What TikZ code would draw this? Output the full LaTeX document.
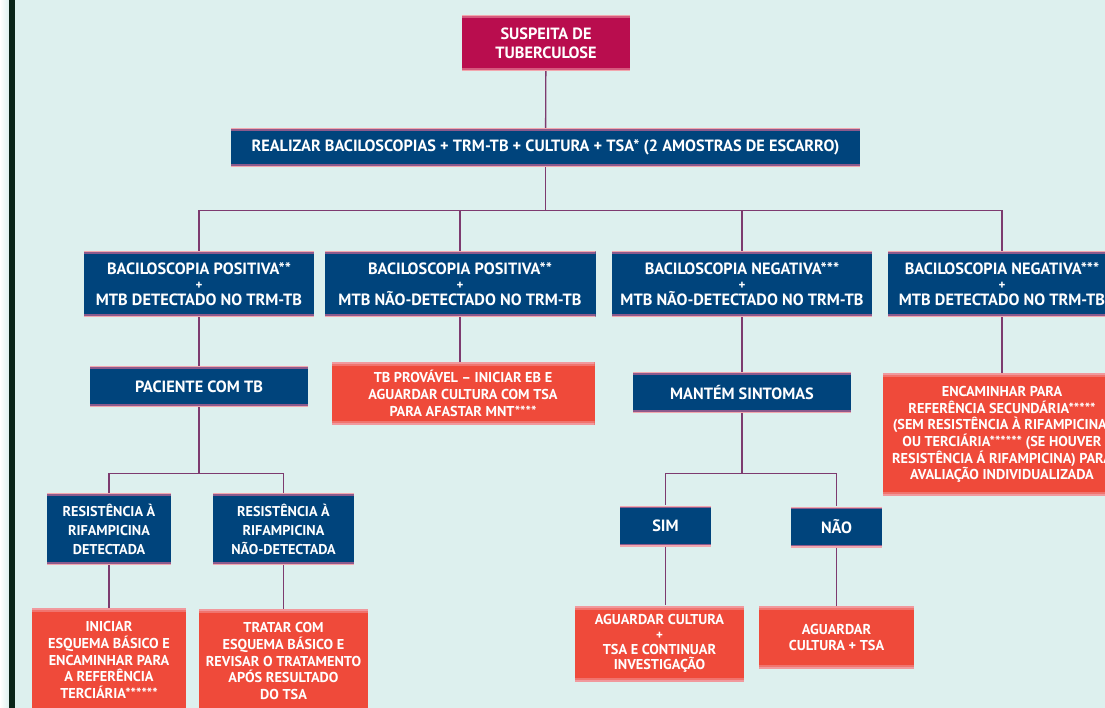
\documentclass[tikz,border=0pt]{standalone}
\usepackage{fontspec}
\setmainfont{PT Sans}
\usetikzlibrary{positioning, calc}
\definecolor{TBBack}{HTML}{DDF0EE}
\definecolor{TBNavy}{HTML}{00447C}
\definecolor{TBRed}{HTML}{EF4A3A}
\definecolor{TBCrimson}{HTML}{B90D4E}
\definecolor{TBPink}{HTML}{F2A7AE}
\definecolor{TBMauve}{HTML}{8C5A8C}
\definecolor{TBLine}{HTML}{7D3B6F}
\definecolor{TBDark}{HTML}{0A2418}
% two coloured stripes at the top and bottom edge of a box
\newcommand{\edgestripes}[3]{%
    \fill[#1] (path picture bounding box.north west) rectangle ([yshift=-#3]path picture bounding box.north east);
    \fill[#2] ([yshift=-#3]path picture bounding box.north west) rectangle ([yshift=-2*#3]path picture bounding box.north east);
    \fill[#1] (path picture bounding box.south west) rectangle ([yshift=#3]path picture bounding box.south east);
    \fill[#2] ([yshift=#3]path picture bounding box.south west) rectangle ([yshift=2*#3]path picture bounding box.south east);}
\tikzset{
    % Box styles - flat fills with striped top and bottom edges
    tbbox/.style={
        rectangle,
        inner sep=0pt,
        align=center,
        text=white,
        font=\bfseries\fontsize{16.3}{19}\selectfont
    },
    suspect/.style={
        tbbox,
        fill=TBCrimson,
        path picture={\edgestripes{TBPink}{TBPink!50!TBCrimson}{1.3pt}}
    },
    finding/.style={
        tbbox,
        fill=TBNavy,
        path picture={\edgestripes{TBPink}{TBMauve}{1.3pt}}
    },
    action/.style={
        tbbox,
        fill=TBRed,
        font=\bfseries\fontsize{14.3}{16.7}\selectfont,
        path picture={\edgestripes{TBPink!85!TBRed}{TBPink!45!TBRed}{2pt}}
    },
    % Connector style - straight elbow lines
    link/.style={
        draw=TBLine,
        line width=1.3pt
    }
}
\newcommand{\plusline}{{\fontsize{13}{10}\selectfont +}}

\begin{document}
\begin{tikzpicture}[x=1pt, y=-1pt]
    \useasboundingbox (0,0) rectangle (1105,708);
    \clip (0,0) rectangle (1105,708);
    \fill[TBBack] (0,0) rectangle (1105,708);
    \shade[left color=white, right color=TBBack] (0,0) rectangle (9,708);
    \fill[TBDark] (9,0) rectangle (15,708);

    \node[suspect, minimum width=168pt, minimum height=56pt] (suspeita) at (546,43) {SUSPEITA DE\\TUBERCULOSE};
    \node[finding, minimum width=629pt, minimum height=39pt] (exames) at (545.5,147.5) {REALIZAR BACILOSCOPIAS + TRM-TB + CULTURA + TSA* (2 AMOSTRAS DE ESCARRO)};

    \node[finding, minimum width=230pt, minimum height=66pt, font=\bfseries\fontsize{16.3}{15.5}\selectfont] (posdet) at (199,284) {BACILOSCOPIA POSITIVA**\\\plusline\\MTB DETECTADO NO TRM-TB};
    \node[finding, minimum width=271pt, minimum height=66pt, font=\bfseries\fontsize{16.3}{15.5}\selectfont] (posnao) at (460,284) {BACILOSCOPIA POSITIVA**\\\plusline\\MTB NÃO-DETECTADO NO TRM-TB};
    \node[finding, minimum width=260pt, minimum height=66pt, font=\bfseries\fontsize{16.3}{15.5}\selectfont] (negnao) at (742,284) {BACILOSCOPIA NEGATIVA***\\\plusline\\MTB NÃO-DETECTADO NO TRM-TB};
    \node[finding, minimum width=228pt, minimum height=66pt, font=\bfseries\fontsize{16.3}{15.5}\selectfont] (negdet) at (1002,284) {BACILOSCOPIA NEGATIVA***\\\plusline\\MTB DETECTADO NO TRM-TB};

    \node[finding, minimum width=218pt, minimum height=41pt] (paciente) at (199,386.5) {PACIENTE COM TB};
    \node[action, minimum width=263pt, minimum height=63pt] (provavel) at (463,393.5) {TB PROVÁVEL -- INICIAR EB E\\AGUARDAR CULTURA COM TSA\\PARA AFASTAR MNT****};
    \node[finding, minimum width=218pt, minimum height=41pt] (sintomas) at (742,392.5) {MANTÉM SINTOMAS};
    \node[action, minimum width=238pt, minimum height=123pt] (encaminhar) at (1002,434.5) {ENCAMINHAR PARA\\REFERÊNCIA SECUNDÁRIA*****\\(SEM RESISTÊNCIA À RIFAMPICINA)\\OU TERCIÁRIA****** (SE HOUVER\\RESISTÊNCIA Á RIFAMPICINA) PARA\\AVALIAÇÃO INDIVIDUALIZADA};

    \node[finding, minimum width=124pt, minimum height=72pt, font=\bfseries\fontsize{14.2}{19}\selectfont] (rifdet) at (109,529) {RESISTÊNCIA À\\RIFAMPICINA\\DETECTADA};
    \node[finding, minimum width=141pt, minimum height=72pt, font=\bfseries\fontsize{14.2}{19}\selectfont] (rifnao) at (283.5,529) {RESISTÊNCIA À\\RIFAMPICINA\\NÃO-DETECTADA};
    \node[finding, minimum width=91pt, minimum height=41pt] (sim) at (665.5,526) {SIM};
    \node[finding, minimum width=91pt, minimum height=41pt] (nao) at (836.5,527) {NÃO};

    \node[action, minimum width=154pt, minimum height=104pt] (iniciar) at (109,660) {INICIAR\\ESQUEMA BÁSICO E\\ENCAMINHAR PARA\\A REFERÊNCIA\\TERCIÁRIA******};
    \node[action, minimum width=169pt, minimum height=104pt] (tratar) at (283.5,661) {TRATAR COM\\ESQUEMA BÁSICO E\\REVISAR O TRATAMENTO\\APÓS RESULTADO\\DO TSA};
    \node[action, minimum width=169pt, minimum height=76pt, font=\bfseries\fontsize{14.3}{15}\selectfont] (aguardarA) at (659.5,643.5) {AGUARDAR CULTURA\\\plusline\\TSA E CONTINUAR\\INVESTIGAÇÃO};
    \node[action, minimum width=155pt, minimum height=63pt] (aguardarB) at (836.5,637.5) {AGUARDAR\\CULTURA + TSA};

    % connectors
    \coordinate (busA) at (545.5,210.5);
    \coordinate (busB) at (199,473.5);
    \coordinate (busC) at (742,473.5);
    \draw[link] (suspeita) -- (exames);
    \draw[link] (exames) -- (busA);
    \draw[link] (busA) -| (posdet.north);
    \draw[link] (busA) -| (posnao.north);
    \draw[link] (busA) -| (negnao.north);
    \draw[link] (busA) -| (negdet.north);
    \draw[link] (posdet) -- (paciente);
    \draw[link] (posnao.south) -- (posnao.south |- provavel.north);
    \draw[link] (negnao) -- (sintomas);
    \draw[link] (negdet) -- (encaminhar);
    \draw[link] (paciente) -- (busB);
    \draw[link] (busB) -| (rifdet.north);
    \draw[link] (busB) -| (rifnao.north);
    \draw[link] (sintomas) -- (busC);
    \draw[link] (busC) -| (sim.north);
    \draw[link] (busC) -| (nao.north);
    \draw[link] (rifdet) -- (iniciar);
    \draw[link] (rifnao) -- (tratar);
    \draw[link] (sim.south) -- (sim.south |- aguardarA.north);
    \draw[link] (nao) -- (aguardarB);
\end{tikzpicture}
\end{document}
